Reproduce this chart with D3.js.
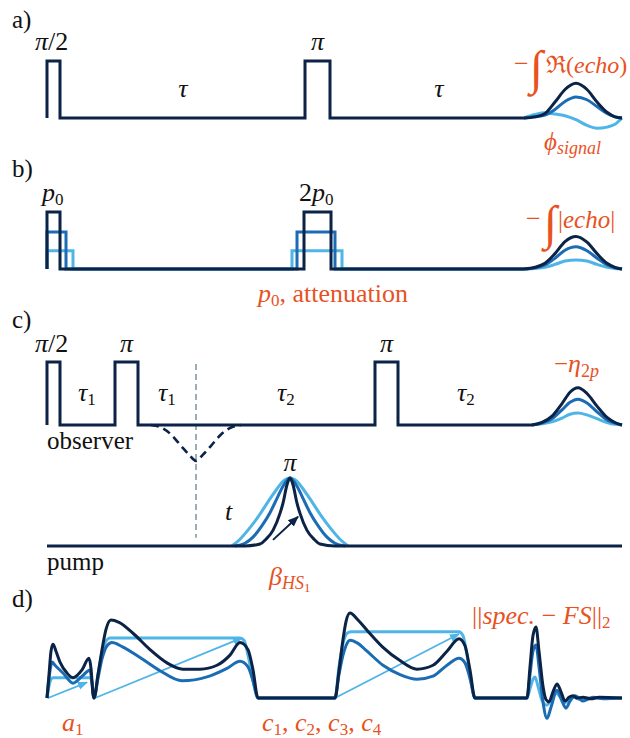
<!DOCTYPE html>
<html>
<head>
<meta charset="utf-8">
<script src="https://cdn.jsdelivr.net/npm/d3@7"></script>
<style>
  body { margin: 0; background: #fff; }
  svg text { font-family: 'Liberation Serif', 'Times New Roman', serif; }
</style>
</head>
<body>
<div id="svgDiv"></div>
<script>
// ---- data (time in a.u., amplitude normalised to the pulse height) ----

// a) two-pulse echo: [start, end, amplitude]
const aPulses = [[0, 13, 1], [258, 283, 1]]
const aEchoT = [477, 488, 498, 508, 518, 529, 540, 550, 560, 568, 575]
const aEchoDark = [0, 0.02, 0.08, 0.28, 0.5, 0.61, 0.5, 0.28, 0.1, 0.02, 0]
const aEchoMid = [0, 0.02, 0.05, 0.15, 0.29, 0.37, 0.32, 0.2, 0.08, 0.02, 0]
const aEchoLight = [0, 0.06, 0.09, 0.07, 0.04, -0.03, -0.13, -0.18, -0.16, -0.11, 0]

// b) pulse length / attenuation
const bPulsesDark = [[0, 13, 1], [257, 284, 1]]
const bPulsesMid = [[0, 19, 0.65], [250, 288, 0.65]]
const bPulsesLight = [[0, 26, 0.32], [245, 295, 0.32]]
const bEchoT = [477, 488, 498, 508, 518, 529, 540, 550, 560, 568, 575]
const bEchoDark = [0, 0.03, 0.1, 0.27, 0.48, 0.57, 0.47, 0.27, 0.1, 0.03, 0]
const bEchoMid = [0, 0.02, 0.07, 0.19, 0.33, 0.39, 0.32, 0.19, 0.07, 0.02, 0]
const bEchoLight = [0, 0.01, 0.03, 0.08, 0.14, 0.16, 0.14, 0.08, 0.03, 0.01, 0]

// c) DEER: observer pulses, echo, pump pulses
const cPulses = [[0, 13, 1], [68, 91, 1], [328, 351, 1]]
const cEchoT = [485, 495, 505, 515, 523, 531, 540, 550, 560, 568, 575]
const cEchoDark = [0, 0.04, 0.14, 0.34, 0.52, 0.59, 0.5, 0.3, 0.12, 0.04, 0]
const cEchoMid = [0, 0.03, 0.1, 0.24, 0.36, 0.41, 0.35, 0.21, 0.08, 0.03, 0]
const cEchoLight = [0, 0.02, 0.05, 0.11, 0.17, 0.19, 0.16, 0.1, 0.04, 0.01, 0]
const dipT = [104, 114, 124, 134, 142, 149, 156, 164, 174, 184, 194]
const dipA = [0, -0.04, -0.15, -0.33, -0.47, -0.57, -0.47, -0.33, -0.15, -0.04, 0]
const markerT = 149
const pumpLightT = [185, 193, 203, 213, 221, 229, 236, 243, 250, 257, 265, 273, 283, 293, 301]
const pumpLightA = [0, 0.1, 0.27, 0.47, 0.65, 0.82, 0.95, 1, 0.95, 0.82, 0.65, 0.47, 0.27, 0.1, 0]
const pumpMidT = [188, 198, 206, 215, 223, 230, 236, 243, 250, 256, 263, 271, 280, 288, 298]
const pumpMidA = [0, 0.04, 0.13, 0.3, 0.49, 0.7, 0.88, 1, 0.88, 0.7, 0.49, 0.3, 0.13, 0.04, 0]
const pumpDarkT = [0, 198, 213, 219, 226, 233, 236, 240, 243, 246, 250, 253, 260, 267, 273, 288, 575]
const pumpDarkA = [0, 0, 0.03, 0.1, 0.23, 0.48, 0.63, 0.9, 1, 0.9, 0.63, 0.48, 0.23, 0.1, 0.03, 0, 0]
const pumpArrow = [[226, 0.09], [251, 0.43]]

// d) shaped pulses and FS spectrum, [t, amplitude]
const dDark = [[0, 0], [2, 0.3], [4, 0.6], [6, 0.69], [9, 0.6], [13, 0.46], [20, 0.32], [26, 0.26], [35, 0.36], [42, 0.51], [44, 0.38], [46, 0.05], [47, 0],
  [51, 0.3], [55, 0.62], [59, 0.88], [64, 1.0], [72, 0.97], [86, 0.83], [103, 0.62], [120, 0.45], [136, 0.37], [153, 0.37], [170, 0.42], [183, 0.55], [193, 0.71], [201, 0.62], [206, 0.36], [211, 0],
  [288, 0], [292, 0.35], [296, 0.75], [299, 0.98], [303, 1.09], [311, 1.0], [320, 0.87], [336, 0.65], [353, 0.48], [370, 0.37], [386, 0.42], [400, 0.6], [412, 0.76], [418, 0.67], [423, 0.36], [428, 0],
  [480, 0], [483, 0.4], [486, 0.8], [489, 0.91], [492, 0.6], [496, 0.15], [499, -0.02], [502, -0.05], [506, 0.08], [510, 0.18], [514, 0.08], [518, -0.04], [522, 0.01], [526, 0.03], [530, 0], [536, 0.01], [544, -0.01], [552, 0.01], [575, 0]]
const dMid = [[0, 0], [2, 0.25], [4, 0.42], [5, 0.46], [8, 0.42], [16, 0.32], [26, 0.19], [36, 0.29], [43, 0.36], [45, 0.2], [47, 0],
  [51, 0.25], [55, 0.5], [60, 0.67], [65, 0.71], [75, 0.66], [93, 0.52], [113, 0.35], [135, 0.22], [160, 0.27], [180, 0.38], [193, 0.47], [201, 0.4], [206, 0.22], [211, 0],
  [288, 0], [292, 0.3], [296, 0.55], [299, 0.67], [303, 0.74], [311, 0.7], [320, 0.6], [336, 0.42], [353, 0.3], [370, 0.24], [386, 0.28], [400, 0.42], [412, 0.51], [418, 0.45], [423, 0.25], [428, 0],
  [480, 0], [483, 0.3], [486, 0.6], [489, 0.68], [492, 0.4], [496, -0.05], [500, -0.26], [504, -0.12], [510, 0.1], [515, -0.04], [519, -0.13], [523, -0.04], [528, 0.03], [532, 0], [536, -0.04], [540, -0.02], [546, 0.01], [556, -0.01], [575, 0]]
const dLight = [[0, 0], [2, 0.15], [4, 0.24], [6, 0.26], [43, 0.26], [45, 0.2], [46, 0.05], [47, 0],
  [51, 0.3], [55, 0.58], [59, 0.73], [63, 0.77], [193, 0.77], [197, 0.74], [201, 0.55], [206, 0.22], [211, 0],
  [288, 0], [292, 0.4], [296, 0.7], [300, 0.83], [304, 0.85], [412, 0.85], [416, 0.8], [420, 0.55], [424, 0.22], [428, 0],
  [480, 0], [483, 0.12], [486, 0.24], [488, 0.27], [491, 0.15], [495, -0.03], [500, -0.09], [505, 0], [509, 0.06], [514, 0], [518, -0.06], [523, -0.01], [527, 0.01], [533, -0.02], [545, 0], [575, 0]]
const dArrows = [[[1, 0], [40, 0.2]], [[48, 0], [195, 0.77]], [[288, 0], [412, 0.82]]]

// ---- set up ----
const width = 630, height = 738
const dark = '#0b2346', mid = '#1b6cb4', light = '#4fb4e6', orange = '#e8521f', ink = '#111'

const svg = d3.select('#svgDiv')
  .append('svg')
    .attr('width', width)
    .attr('height', height)

const defs = svg.append('defs')
function arrowMarker(id, color, size) {
  defs.append('marker')
      .attr('id', id)
      .attr('viewBox', '0 0 10 10')
      .attr('refX', 9).attr('refY', 5)
      .attr('markerWidth', size).attr('markerHeight', size)
      .attr('markerUnits', 'userSpaceOnUse')
      .attr('orient', 'auto')
    .append('path')
      .attr('d', 'M0,1 L10,5 L0,9 Z')
      .style('fill', color)
}
arrowMarker('arrowDark', dark, 11)
arrowMarker('arrowLight', light, 10)

// time axis shared by all rows
const x = d3.scaleLinear().domain([0, 575]).range([47, 622])
// amplitude scales, one per trace row
const yA = d3.scaleLinear().domain([0, 1]).range([118, 61])
const yB = d3.scaleLinear().domain([0, 1]).range([269, 212])
const yObs = d3.scaleLinear().domain([0, 1]).range([425, 362])
const yPump = d3.scaleLinear().domain([0, 1]).range([546, 478])
const yD = d3.scaleLinear().domain([0, 1]).range([698, 620])

function pulseTrain(pulses, tEnd) {
  var pts = [[0, 0]]
  pulses.forEach(p => { pts.push([p[0], 0], [p[0], p[2]], [p[1], p[2]], [p[1], 0]) })
  pts.push([tEnd, 0])
  return pts
}

function trace(points, y, color, curve, w) {
  return svg.append('path')
    .datum(points)
    .attr('d', d3.line().x(d => x(d[0])).y(d => y(d[1])).curve(curve))
    .style('fill', 'none')
    .style('stroke', color)
    .style('stroke-width', w || 3)
    .style('stroke-linejoin', 'round')
}

function pulses(p, tEnd, y, color) {
  trace(pulseTrain(p, tEnd), y, color, d3.curveLinear)
    .style('stroke-linejoin', 'miter')
}

// text with italic / subscript parts: [text, italic, size, dy]
function mathLabel(px, py, parts, color, anchor) {
  var t = svg.append('text')
    .attr('x', px).attr('y', py)
    .attr('text-anchor', anchor || 'start')
    .style('fill', color || ink)
  parts.forEach(p => {
    t.append('tspan')
      .text(p[0])
      .attr('dy', p[3] || 0)
      .style('font-style', p[1] ? 'italic' : 'normal')
      .style('font-size', (p[2] || 24) + 'px')
  })
  return t
}

function integral(px, py, size) {
  svg.append('text')
    .attr('x', px).attr('y', py)
    .style('font-size', size + 'px')
    .style('font-style', 'italic')
    .style('fill', orange)
    .text('∫')
}

// ---- a) ----
mathLabel(12, 28, [['a)', 0, 25]])
pulses(aPulses, aEchoT[0], yA, dark)
trace(d3.zip(aEchoT, aEchoLight), yA, light, d3.curveMonotoneX)
trace(d3.zip(aEchoT, aEchoMid), yA, mid, d3.curveMonotoneX)
trace(d3.zip(aEchoT, aEchoDark), yA, dark, d3.curveMonotoneX)
mathLabel(35, 50, [['π', 1, 26], ['/2', 0, 26]])
mathLabel(x(270.5), 50, [['π', 1, 26]], ink, 'middle')
mathLabel(183, 97, [['τ', 1, 26]], ink, 'middle')
mathLabel(439, 97, [['τ', 1, 26]], ink, 'middle')
mathLabel(514, 72, [['−', 0, 26]], orange)
integral(530, 84, 48)
mathLabel(546, 73, [['ℜ(', 0], ['echo', 1], [')', 0]], orange)
mathLabel(544, 150, [['ϕ', 1, 25], ['signal', 1, 18, 4]], orange)

// ---- b) ----
mathLabel(12, 177, [['b)', 0, 25]])
pulses(bPulsesLight, bEchoT[0], yB, light)
pulses(bPulsesMid, bEchoT[0], yB, mid)
pulses(bPulsesDark, bEchoT[0], yB, dark)
trace(d3.zip(bEchoT, bEchoLight), yB, light, d3.curveMonotoneX)
trace(d3.zip(bEchoT, bEchoMid), yB, mid, d3.curveMonotoneX)
trace(d3.zip(bEchoT, bEchoDark), yB, dark, d3.curveMonotoneX)
mathLabel(42, 201, [['p', 1, 26], ['0', 0, 17, 4]])
mathLabel(299, 201, [['2', 0, 26], ['p', 1, 26], ['0', 0, 17, 4]])
mathLabel(526, 227, [['−', 0, 26]], orange)
integral(544, 239, 48)
mathLabel(558, 228, [['|', 0, 25], ['echo', 1, 25], ['|', 0, 25]], orange)
mathLabel(258, 302, [['p', 1, 26], ['0', 0, 17, 4], [', attenuation', 0, 26, -4]], orange)

// ---- c) ----
mathLabel(12, 328, [['c)', 0, 25]])
svg.append('line')
  .attr('x1', x(markerT)).attr('x2', x(markerT))
  .attr('y1', yObs(0.97)).attr('y2', yPump(0.12))
  .style('stroke', '#8fa7ad')
  .style('stroke-width', 1.8)
  .style('stroke-dasharray', '6,4')
pulses(cPulses, cEchoT[0], yObs, dark)
trace(d3.zip(cEchoT, cEchoLight), yObs, light, d3.curveMonotoneX)
trace(d3.zip(cEchoT, cEchoMid), yObs, mid, d3.curveMonotoneX)
trace(d3.zip(cEchoT, cEchoDark), yObs, dark, d3.curveMonotoneX)
trace(d3.zip(dipT, dipA), yObs, dark, d3.curveMonotoneX, 2.6)
  .style('stroke-dasharray', '8,5')

trace(d3.zip(pumpLightT, pumpLightA), yPump, light, d3.curveMonotoneX)
trace(d3.zip(pumpMidT, pumpMidA), yPump, mid, d3.curveMonotoneX)
trace(d3.zip(pumpDarkT, pumpDarkA), yPump, dark, d3.curveMonotoneX)
svg.append('line')
  .attr('x1', x(pumpArrow[0][0])).attr('y1', yPump(pumpArrow[0][1]))
  .attr('x2', x(pumpArrow[1][0])).attr('y2', yPump(pumpArrow[1][1]))
  .style('stroke', dark)
  .style('stroke-width', 2)
  .attr('marker-end', 'url(#arrowDark)')

mathLabel(35, 352, [['π', 1, 26], ['/2', 0, 26]])
mathLabel(x(79.5), 352, [['π', 1, 26]], ink, 'middle')
mathLabel(x(339.5), 352, [['π', 1, 26]], ink, 'middle')
mathLabel(78, 401, [['τ', 1, 26], ['1', 0, 17, 4]])
mathLabel(158, 401, [['τ', 1, 26], ['1', 0, 17, 4]])
mathLabel(277, 401, [['τ', 1, 26], ['2', 0, 17, 4]])
mathLabel(457, 401, [['τ', 1, 26], ['2', 0, 17, 4]])
mathLabel(554, 372, [['−', 0, 25], ['η', 1, 26], ['2', 0, 18, 5], ['p', 1, 18]], orange)
mathLabel(47, 449, [['observer', 0, 25]])
mathLabel(x(243), 471, [['π', 1, 26]], ink, 'middle')
mathLabel(225, 520, [['t', 1, 26]])
mathLabel(47, 570, [['pump', 0, 25]])
mathLabel(269, 585, [['β', 1, 26], ['HS', 1, 18, 4], ['1', 0, 13, 3]], orange)

// ---- d) ----
mathLabel(12, 607, [['d)', 0, 25]])
trace(dLight, yD, light, d3.curveMonotoneX)
dArrows.forEach(a => {
  svg.append('line')
    .attr('x1', x(a[0][0])).attr('y1', yD(a[0][1]))
    .attr('x2', x(a[1][0])).attr('y2', yD(a[1][1]))
    .style('stroke', light)
    .style('stroke-width', 1.8)
    .attr('marker-end', 'url(#arrowLight)')
})
trace(dMid, yD, mid, d3.curveMonotoneX)
trace(dDark, yD, dark, d3.curveMonotoneX)
mathLabel(472, 624, [['||', 0, 26], ['spec.', 1, 26], [' − ', 0, 26], ['FS', 1, 26], ['||', 0, 26], ['2', 0, 17, 4]], orange)
mathLabel(62, 731, [['a', 1, 26], ['1', 0, 17, 4]], orange)
mathLabel(262, 731, [['c', 1, 26], ['1', 0, 17, 4], [', ', 0, 26, -4], ['c', 1, 26], ['2', 0, 17, 4], [', ', 0, 26, -4],
  ['c', 1, 26], ['3', 0, 17, 4], [', ', 0, 26, -4], ['c', 1, 26], ['4', 0, 17, 4]], orange)
</script>
</body>
</html>
